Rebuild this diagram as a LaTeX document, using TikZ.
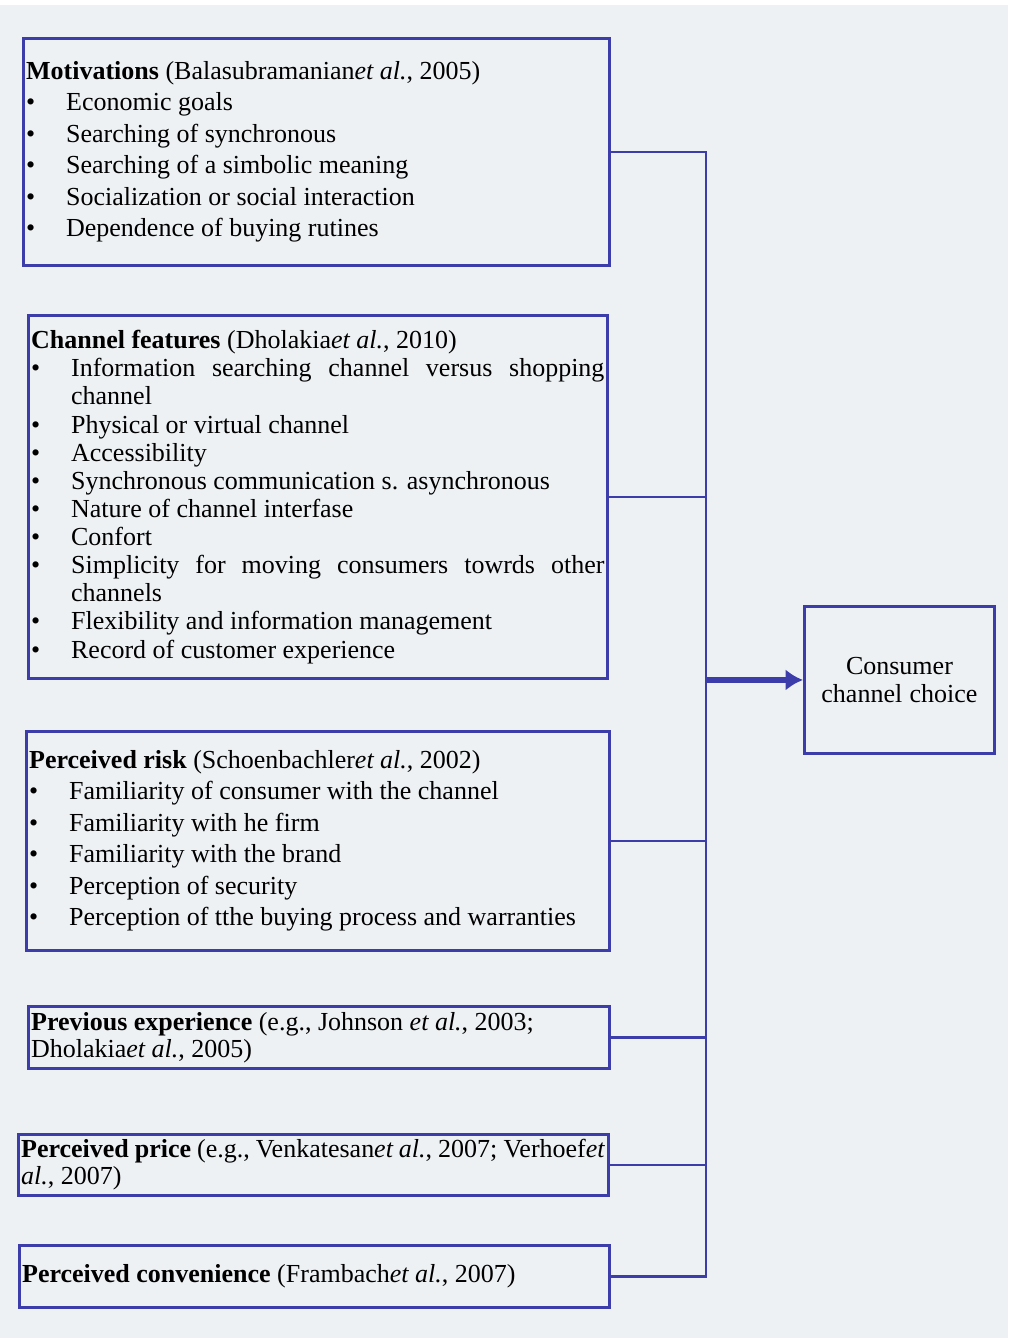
\documentclass[tikz,border=0pt]{standalone}
\usepackage{fontspec}
\setmainfont{Liberation Serif}
\usetikzlibrary{arrows.meta,positioning}

\definecolor{bgc}{RGB}{238,241,244}
\definecolor{linec}{RGB}{60,60,170}
\newcommand{\bul}{\makebox[30pt][l]{\textbullet}}
\newcommand{\ind}{\hspace*{30pt}}
\newcommand{\jline}[2]{\makebox[#1][s]{#2}}

\begin{document}
\begin{tikzpicture}
	[x=1pt,y=-1pt,
	box/.style={draw=linec, line width=2.2pt, rectangle, anchor=north west, inner xsep=2pt, inner ysep=0pt, align=left, font=\fontsize{19.5}{23.6}\selectfont, execute at begin node={\spaceskip=0pt\xspaceskip=0pt\relax}},
	link/.style={draw=linec, line width=2.2pt},
	flow/.style={draw=linec, line width=4.5pt, -{Latex[length=13pt,width=16pt]}}]
	\fill[bgc] (0,0) rectangle (756,1003.5);
	\fill[white] (0,0) rectangle (756,4);
	
	\node[box, text width=435.5pt, minimum height=170.25pt] (mot) at (16.5,27.75) {\textbf{Motivations} (Balasubramanian\textit{et al.}, 2005)\\
		\bul Economic goals\\
		\bul Searching of synchronous\\
		\bul Searching of a simbolic meaning\\
		\bul Socialization or social interaction\\
		\bul Dependence of buying rutines};
	\node[box, text width=430.25pt, minimum height=272.25pt, font=\fontsize{19.5}{21.1}\selectfont] (chan) at (20.25,235.5) {\textbf{Channel features} (Dholakia\textit{et al.}, 2010)\\
		\bul\jline{400pt}{Information searching channel versus shopping}\\
		\ind channel\\
		\bul Physical or virtual channel\\
		\bul Accessibility\\
		\bul Synchronous communication s. asynchronous\\
		\bul Nature of channel interfase\\
		\bul Confort\\
		\bul\jline{400pt}{Simplicity for moving consumers towrds other}\\
		\ind channels\\
		\bul Flexibility and information management\\
		\bul Record of customer experience};
	\node[box, text width=433.25pt, minimum height=164.25pt] (risk) at (18.75,547.5) {\textbf{Perceived risk} (Schoenbachler\textit{et al.}, 2002)\\
		\bul Familiarity of consumer with the channel\\
		\bul Familiarity with he firm\\
		\bul Familiarity with the brand\\
		\bul Perception of security\\
		\bul Perception of tthe buying process and warranties};
	\node[box, text width=431.75pt, minimum height=46.5pt, font=\fontsize{19.5}{20.3}\selectfont] (prev) at (20.25,753.75) {\textbf{Previous experience} (e.g., Johnson \textit{et al.}, 2003;\\
		Dholakia\textit{et al.}, 2005)};
	\node[box, text width=438.5pt, minimum height=45.75pt, font=\fontsize{19.5}{20.3}\selectfont] (price) at (12.75,849.75) {\jline{438pt}{\textbf{Perceived price} (e.g., Venkatesan\textit{et al.}, 2007; Verhoef\textit{et}}\\
		\textit{al.}, 2007)};
	\node[box, text width=438.5pt, minimum height=46.5pt] (conv) at (13.5,933) {\textbf{Perceived convenience} (Frambach\textit{et al.}, 2007)};
	\node[box, align=center, text width=138.5pt, minimum height=110.25pt, font=\fontsize{19.5}{21}\selectfont] (choice) at (602.25,453.75) {Consumer\\channel choice};
	
	\coordinate (bus) at (529.5,0);
	\draw[link] (mot.east) -- (mot.east -| bus) -- (conv.east -| bus) -- (conv.east);
	\draw[link] (chan.east) -- (chan.east -| bus);
	\draw[link] (risk.east) -- (risk.east -| bus);
	\draw[link] (prev.east) -- (prev.east -| bus);
	\draw[link] (price.east) -- (price.east -| bus);
	\draw[flow] (choice.west -| bus) -- (choice.west);
\end{tikzpicture}
\end{document}
